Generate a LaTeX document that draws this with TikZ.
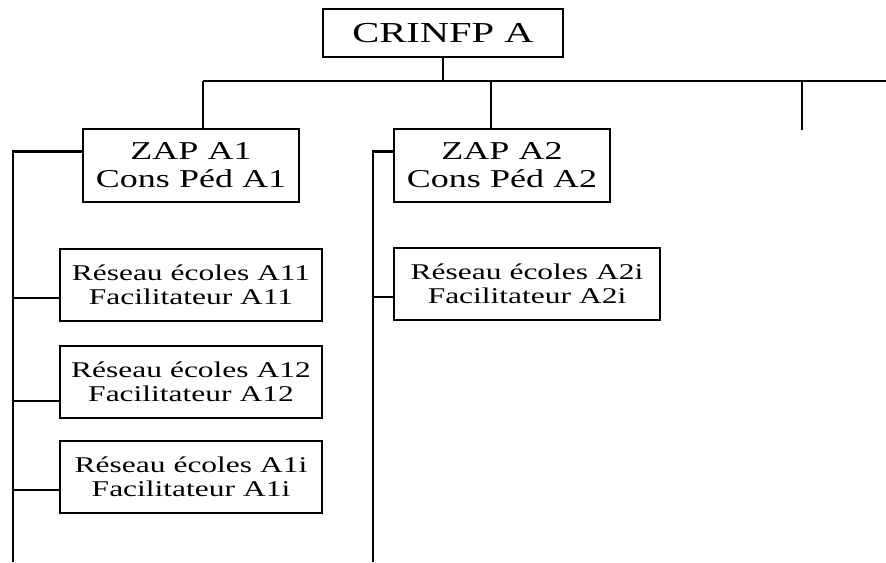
\documentclass[tikz,border=0pt]{standalone}
\usepackage{fontspec}
\usepackage{tikz}
\usetikzlibrary{positioning, calc}
\newfontfamily\organi[FakeStretch=1.4]{Liberation Serif}
\definecolor{Dark}{HTML}{000000}
\definecolor{White}{HTML}{FFFFFF}
\tikzset{
    boite/.style={rectangle, draw=Dark, line width=2.1pt, fill=White, text=Dark, align=center, inner sep=0pt},
    tete/.style={boite, minimum width=6.0cm, minimum height=1.2cm, font=\organi\fontsize{20.6}{22}\selectfont},
    zone/.style={boite, minimum width=5.4cm, minimum height=1.825cm, font=\organi\fontsize{18.3}{20}\selectfont},
    reseau/.style={boite, minimum height=1.8cm, font=\organi\fontsize{16}{17.2}\selectfont},
    lien/.style={line width=2.1pt, color=Dark},
}
\begin{document}
\begin{tikzpicture}
    \useasboundingbox (0,0) rectangle (22.15,14.05);

    % Sommet
    \node[tete] (crinfp) at (11.075, 13.225) {CRINFP A};

    % Zones
    \node[zone] (zap1) at (4.775, 9.9125) {ZAP A1\\Cons Péd A1};
    \node[zone] (zap2) at (12.55, 9.9125) {ZAP A2\\Cons Péd A2};

    % Réseaux de la zone A1
    \node[reseau, minimum width=6.55cm] (r11) at (4.775, 6.925) {Réseau écoles A11\\Facilitateur A11};
    \node[reseau, minimum width=6.55cm] (r12) at (4.775, 4.5) {Réseau écoles A12\\Facilitateur A12};
    \node[reseau, minimum width=6.55cm] (r1i) at (4.775, 2.125) {Réseau écoles A1i\\Facilitateur A1i};

    % Réseau de la zone A2
    \node[reseau, minimum width=6.65cm] (r2i) at (13.175, 6.95) {Réseau écoles A2i\\Facilitateur A2i};

    % Barre horizontale
    \coordinate (busG) at (5.075, 12.025);
    \coordinate (busD) at (22.15, 12.025);
    \coordinate (d2) at (12.275, 12.025);
    \coordinate (d3) at (20.05, 12.025);
    \coordinate (fin) at (20.05, 10.8);
    \draw[lien] (crinfp.south) -- (crinfp.south |- busG);
    \draw[lien] (busG) -- (busD);
    \draw[lien] (busG) -- (busG |- zap1.north);
    \draw[lien] (d2) -- (d2 |- zap2.north);
    \draw[lien] (d3) -- (fin);

    % Colonnes
    \coordinate (col1) at (0.325, 0);
    \coordinate (col2) at (9.325, 0);
    \draw[lien] ([yshift=0.34cm]zap1.west) -| (col1);
    \draw[lien] ([yshift=0.34cm]zap2.west) -| (col2);
    \draw[lien] ([yshift=-0.325cm]r11.west) -- ([yshift=-0.325cm]r11.west -| col1);
    \draw[lien] ([yshift=-0.475cm]r12.west) -- ([yshift=-0.475cm]r12.west -| col1);
    \draw[lien] ([yshift=-0.325cm]r1i.west) -- ([yshift=-0.325cm]r1i.west -| col1);
    \draw[lien] ([yshift=-0.325cm]r2i.west) -- ([yshift=-0.325cm]r2i.west -| col2);

\end{tikzpicture}
\end{document}
